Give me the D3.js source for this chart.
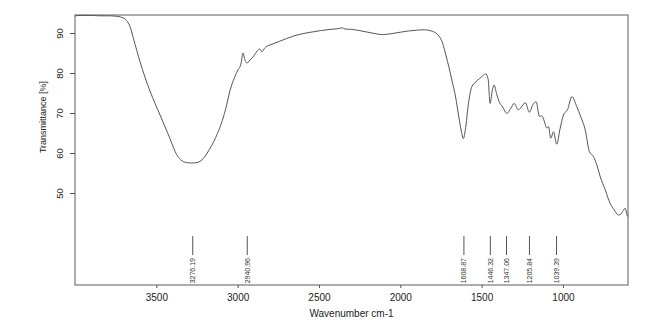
<!DOCTYPE html>
<html>
<head>
<meta charset="utf-8">
<script src="https://cdn.jsdelivr.net/npm/d3@7"></script>
<style>
body { margin: 0; background: #fff; }
text { font-family: "Liberation Sans", Arial, sans-serif; fill: #222; }
</style>
</head>
<body>
<div id="chart"></div>
<script>
// spectrum (wavenumber, transmittance %)
var wavenumber = [4000, 3950, 3900, 3850, 3800, 3750, 3720, 3700, 3682, 3662, 3641, 3620, 3600, 3570, 3539, 3508, 3477, 3446, 3416, 3395, 3375, 3350, 3313, 3280, 3250, 3225, 3200, 3175, 3150, 3125, 3100, 3075, 3047, 3020, 2998, 2980, 2967, 2955, 2942, 2925, 2900, 2880, 2865, 2850, 2835, 2820, 2801, 2750, 2700, 2635, 2550, 2432, 2380, 2358, 2340, 2300, 2250, 2200, 2150, 2110, 2060, 2000, 1950, 1900, 1850, 1817, 1790, 1770, 1755, 1740, 1720, 1700, 1683, 1660, 1640, 1625, 1612, 1600, 1581, 1560, 1540, 1513, 1490, 1475, 1460, 1448, 1435, 1423, 1408, 1392, 1370, 1345, 1320, 1300, 1274, 1250, 1232, 1206, 1185, 1165, 1144, 1130, 1115, 1099, 1089, 1075, 1058, 1038, 1018, 997, 972, 945, 915, 890, 863, 837, 812, 790, 771, 740, 710, 685, 659, 644, 630, 617, 610, 603];
var transmittance = [94.3, 94.4, 94.4, 94.3, 94.3, 94.2, 94.0, 93.7, 93.1, 91.6, 88.7, 85.6, 82.8, 79.0, 75.5, 72.4, 69.5, 66.5, 63.6, 61.4, 59.6, 58.3, 57.6, 57.5, 57.6, 58.1, 59.2, 60.8, 62.6, 64.8, 67.4, 70.8, 75.6, 78.8, 80.8, 82.2, 85.0, 83.2, 82.5, 83.2, 84.3, 85.5, 86.0, 85.3, 86.2, 86.7, 87.0, 87.8, 88.6, 89.5, 90.2, 90.9, 91.1, 91.3, 91.0, 90.9, 90.6, 90.2, 89.8, 89.6, 89.8, 90.2, 90.5, 90.7, 90.8, 90.6, 90.2, 89.6, 88.8, 87.5, 84.5, 81.3, 78.2, 74.0, 69.0, 65.5, 63.6, 65.8, 72.4, 76.6, 77.6, 78.6, 79.4, 79.8, 78.5, 72.4, 75.5, 77.0, 74.8, 72.8, 71.5, 69.9, 71.2, 72.4, 70.8, 71.8, 72.6, 70.2, 72.1, 72.8, 69.1, 69.3, 68.0, 66.2, 66.6, 63.7, 65.3, 62.2, 66.0, 69.5, 70.8, 74.1, 71.6, 69.0, 65.8, 60.3, 59.1, 56.8, 54.1, 50.8, 47.4, 45.8, 44.5, 44.7, 45.6, 46.2, 45.2, 44.1];

// marked peaks
var peakPositions = [3276.19, 2940.96, 1608.87, 1446.32, 1347.06, 1205.84, 1039.39];
var peakLabels = ["3276.19", "2940.96", "1608.87", "1446.32", "1347.06", "1205.84", "1039.39"];

var xTicks = [3500, 3000, 2500, 2000, 1500, 1000];
var yTicks = [50, 60, 70, 80, 90];

var width = 664;
var height = 329;
var margin = {left: 75, right: 36, top: 15, bottom: 44};

var svg = d3.select("#chart")
	.append("svg")
	.attr("width", width)
	.attr("height", height);

var x = d3.scaleLinear()
	.domain([4000, 600])
	.range([margin.left, width - margin.right]);

var y = d3.scaleLinear()
	.domain([27, 94.5])
	.range([height - margin.bottom, margin.top]);

var points = wavenumber.map(function(w, i) { return [w, transmittance[i]]; });

// frame
svg.append("rect")
	.attr("x", x(4000))
	.attr("y", y(94.5))
	.attr("width", x(600) - x(4000))
	.attr("height", y(27) - y(94.5))
	.style("fill", "none")
	.style("stroke", "#777")
	.style("stroke-width", 1.2);

// x axis
var xAxis = svg.append("g")
	.attr("transform", "translate(0," + y(27) + ")")
	.call(d3.axisBottom(x).tickValues(xTicks).tickFormat(d3.format("d")).tickSize(3).tickSizeOuter(0).tickPadding(6));
xAxis.select(".domain").remove();
xAxis.selectAll("line").style("stroke", "#555");
xAxis.selectAll("text").style("font-size", "10px").style("fill", "#222");

// y axis, labels turned
var yAxis = svg.append("g")
	.attr("transform", "translate(" + x(4000) + ",0)")
	.call(d3.axisLeft(y).tickValues(yTicks).tickFormat(d3.format("d")).tickSize(5).tickSizeOuter(0));
yAxis.select(".domain").remove();
yAxis.selectAll("line").style("stroke", "#555");
yAxis.selectAll("text")
	.attr("x", null).attr("dy", null)
	.attr("transform", "translate(-12,0) rotate(-90)")
	.attr("text-anchor", "middle")
	.style("font-size", "9.5px")
	.style("fill", "#222");

svg.append("text")
	.attr("transform", "translate(46,117) rotate(-90)")
	.attr("text-anchor", "middle")
	.style("font-size", "9px")
	.text("Transmittance [%]");

svg.append("text")
	.attr("x", (x(4000) + x(600)) / 2)
	.attr("y", 317)
	.attr("text-anchor", "middle")
	.style("font-size", "10px")
	.text("Wavenumber cm-1");

// spectrum
var line = d3.line()
	.x(function(d) { return x(d[0]); })
	.y(function(d) { return y(d[1]); })
	.curve(d3.curveMonotoneX);

svg.append("path")
	.datum(points)
	.attr("d", line)
	.style("fill", "none")
	.style("stroke", "#555")
	.style("stroke-width", 1);

// peak markers
var peaks = svg.selectAll(".peak")
	.data(peakPositions)
	.enter().append("g")
	.attr("class", "peak")
	.attr("transform", function(d) { return "translate(" + x(d) + ",0)"; });

peaks.append("line")
	.attr("y1", 236)
	.attr("y2", 255)
	.style("stroke", "#555");

peaks.append("text")
	.attr("transform", "translate(2.5,258) rotate(-90)")
	.attr("text-anchor", "end")
	.style("font-size", "7px")
	.style("fill", "#333")
	.text(function(d, i) { return peakLabels[i]; });
</script>
</body>
</html>
